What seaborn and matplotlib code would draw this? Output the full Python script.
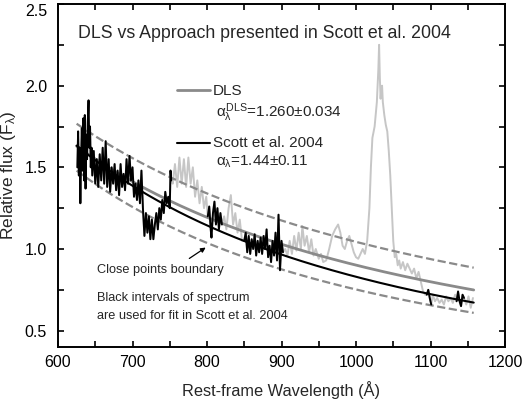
import numpy as np
import pandas as pd
import matplotlib
matplotlib.use("Agg")
import matplotlib.pyplot as plt
import seaborn as sns
from matplotlib.ticker import MultipleLocator

sns.set_style("ticks")
plt.rcParams['font.family'] = ['Liberation Sans', 'DejaVu Sans']
plt.rcParams['mathtext.fontset'] = 'custom'
plt.rcParams['mathtext.rm'] = 'Liberation Sans'
plt.rcParams['mathtext.it'] = 'Liberation Sans'

# ---------------- data ----------------
spec_lam = [626, 627, 628, 629, 630, 631, 632, 633, 634, 635, 636, 637, 638, 639, 640, 641, 642, 643, 644, 645,
            646, 648, 650, 652, 654, 656, 658, 660, 662, 664, 666, 668, 670, 672, 674, 676, 678, 680, 682, 684,
            686, 688, 690, 692, 694, 696, 698, 700, 702, 704, 706, 708, 710, 712, 714, 716, 718, 720, 722, 724,
            726, 728, 730, 732, 734, 736, 738, 740, 742, 744, 746, 748, 750, 751, 752,
            754, 757, 760, 763, 766, 769, 772, 775, 778, 781, 784, 787, 790, 793, 796, 799,
            801, 803, 805, 806, 808, 810, 812, 814, 816, 818, 820,
            823, 826, 829, 832, 835, 838, 841, 844, 847,
            850, 852, 854, 856, 858, 860, 862, 864, 866, 868, 870, 872, 874, 876, 878, 880, 882, 884, 886, 888,
            890, 892, 894, 896, 898, 900, 902,
            905, 908, 911, 914, 917, 920, 923, 926, 928, 931, 934, 937, 940, 943, 946, 950, 953, 956, 960, 964,
            968, 972, 976, 979, 982, 985, 988, 991, 994, 997, 1000, 1003, 1006, 1009, 1012, 1015, 1018, 1020,
            1022, 1025, 1028, 1030, 1031, 1032, 1033, 1034, 1035, 1036, 1038, 1040, 1042, 1044, 1046, 1048,
            1050, 1052, 1054, 1056, 1058, 1060, 1063, 1066, 1069, 1072, 1075, 1078, 1081, 1084, 1087, 1090,
            1093, 1095, 1097, 1099, 1101, 1103, 1106, 1109, 1112, 1115, 1118, 1121, 1124, 1127, 1130, 1133,
            1135, 1137, 1139, 1141, 1143, 1145, 1148, 1151, 1154, 1157]
spec_flux = [1.50, 1.72, 1.45, 1.62, 1.28, 1.55, 1.74, 1.48, 1.80, 1.42, 1.82, 1.37, 1.70, 1.55, 1.78, 1.91, 1.62, 1.75, 1.50, 1.62,
             1.45, 1.60, 1.40, 1.55, 1.38, 1.58, 1.42, 1.62, 1.40, 1.66, 1.38, 1.55, 1.35, 1.50, 1.40, 1.52, 1.36, 1.48, 1.33, 1.52,
             1.38, 1.46, 1.36, 1.55, 1.40, 1.57, 1.42, 1.50, 1.32, 1.40, 1.30, 1.42, 1.28, 1.48, 1.25, 1.08, 1.22, 1.10, 1.20, 1.06,
             1.18, 1.06, 1.15, 1.22, 1.12, 1.25, 1.18, 1.30, 1.22, 1.35, 1.28, 1.32, 1.25, 1.48, 1.42,
             1.40, 1.52, 1.38, 1.56, 1.40, 1.55, 1.38, 1.56, 1.40, 1.50, 1.32, 1.42, 1.28, 1.38, 1.25, 1.32,
             1.20, 1.26, 1.12, 1.07, 1.22, 1.29, 1.15, 1.25, 1.12, 1.22, 1.15,
             1.20, 1.12, 1.25, 1.33, 1.15, 1.22, 1.10, 1.18, 1.05,
             1.05, 1.10, 0.98, 1.08, 0.97, 1.06, 1.00, 1.09, 0.96, 1.05, 0.98, 1.07, 0.97, 1.08, 1.00, 1.12, 0.95, 1.02, 0.92, 1.05,
             0.96, 1.10, 0.93, 1.21, 0.87, 1.05, 0.98,
             1.00, 0.96, 1.05, 0.97, 1.08, 0.99, 1.10, 1.00, 1.14, 1.02, 1.08, 0.98, 1.06, 0.96, 1.00, 0.94, 0.97, 0.92, 0.93, 1.00,
             1.08, 1.12, 1.15, 1.10, 1.02, 1.00, 1.05, 1.08, 1.03, 0.98, 0.95, 0.94, 0.97, 1.00, 0.97, 1.05, 1.25, 1.50,
             1.68, 1.75, 1.90, 2.10, 2.25, 2.05, 1.92, 1.98, 2.00, 1.90, 1.82, 1.76, 1.72, 1.60, 1.45, 1.25,
             1.05, 0.95, 0.97, 0.90, 0.93, 0.88, 0.92, 0.87, 0.91, 0.88, 0.85, 0.88, 0.82, 0.86, 0.80, 0.74,
             0.72, 0.72, 0.75, 0.70, 0.66, 0.72, 0.68, 0.70, 0.67, 0.69, 0.66, 0.71, 0.68, 0.70, 0.67, 0.72,
             0.68, 0.74, 0.68, 0.65, 0.72, 0.70, 0.66, 0.71, 0.64, 0.70]

# wavelength windows used for the fit (black intervals)
fit_lo = [625, 801, 850, 1094, 1134]
fit_hi = [752, 820, 902, 1102, 1146]

# power-law curves: amplitude at reference wavelength and index
curve_names = ["DLS", "Scott", "upper", "lower"]
curve_ref = [1157, 625, 625, 625]
curve_amp = [0.75, 1.633, 1.767, 1.48]
curve_alpha = [1.26, 1.44, 1.12, 1.44]
curve_range = (625, 1158)

y_ticks = [0.5, 1.0, 1.5, 2.0, 2.5]

# ---------------- build tables ----------------
spec = pd.DataFrame({"lam": spec_lam, "flux": spec_flux})
black_parts = []
for i, (lo, hi) in enumerate(zip(fit_lo, fit_hi)):
    part = spec[(spec.lam >= lo) & (spec.lam <= hi)].copy()
    part["seg"] = i
    black_parts.append(part)
black = pd.concat(black_parts)

lam_grid = np.linspace(curve_range[0], curve_range[1], 200)
curves = {}
for n, r, a, al in zip(curve_names, curve_ref, curve_amp, curve_alpha):
    curves[n] = pd.DataFrame({"lam": lam_grid, "flux": a * (lam_grid / r) ** (-al)})

# ---------------- plot ----------------
fig = plt.figure(figsize=(5.24, 3.99), dpi=100)
ax = fig.add_axes([58 / 524, 1 - 347 / 399, (505 - 58) / 524, (347 - 4) / 399])

sns.lineplot(data=spec, x="lam", y="flux", color="#c6c6c6", lw=1.4, sort=False, estimator=None, ax=ax)
for n, st in [("upper", "--"), ("lower", "--")]:
    sns.lineplot(data=curves[n], x="lam", y="flux", color="#8a8a8a", lw=1.6, ls=st, ax=ax)
sns.lineplot(data=curves["DLS"], x="lam", y="flux", color="#8a8a8a", lw=2.0, ax=ax)
sns.lineplot(data=curves["Scott"], x="lam", y="flux", color="black", lw=1.5, ax=ax)
sns.lineplot(data=black, x="lam", y="flux", units="seg", color="black", lw=1.4, sort=False,
             estimator=None, ax=ax)

ax.set_xlim(600, 1200)
ax.set_ylim(0.4, 2.5)
ax.xaxis.set_major_locator(MultipleLocator(100))
ax.xaxis.set_minor_locator(MultipleLocator(50))
ax.yaxis.set_minor_locator(MultipleLocator(0.25))
ax.set_yticks(y_ticks)
ax.set_yticklabels([f"{v:.1f}" for v in y_ticks])
ax.tick_params(which="both", direction="in", top=True, right=True, length=4, width=1.2,
               labelsize=11.5, colors="black")
ax.tick_params(axis="x", pad=6)
ax.tick_params(axis="y", pad=8)
ax.get_yticklabels()[-1].set_va("top")
for s in ax.spines.values():
    s.set_linewidth(1.4)
    s.set_color("black")

ax.set_xlabel("Rest-frame Wavelength (Å)", fontsize=11.8, labelpad=8)
ax.set_ylabel(r"Relative flux (F$_\lambda$)", fontsize=12.5, labelpad=5)

fig.text(78 / 524, 1 - 33 / 399, "DLS vs Approach presented in Scott et al. 2004", fontsize=12.8,
         va="center", ha="left")

# legend-like labels
def px(x, y):
    return (x / 524, 1 - y / 399)

fig.add_artist(plt.Line2D([177 / 524, 210 / 524], [1 - 90 / 399, 1 - 90 / 399], color="#8a8a8a", lw=2.0))
fig.add_artist(plt.Line2D([177 / 524, 210 / 524], [1 - 143 / 399, 1 - 143 / 399], color="black", lw=1.5))
fig.text(*px(213, 91), "DLS", fontsize=11, va="center")
fig.text(*px(216, 113), r"$\alpha_\lambda^{\rm DLS}$=1.260±0.034", fontsize=11, va="center")
fig.text(*px(213, 143), "Scott et al. 2004", fontsize=11, va="center")
fig.text(*px(216, 162), r"$\alpha_\lambda$=1.44±0.11", fontsize=11, va="center")

fig.text(*px(97, 270), "Close points boundary", fontsize=9.2, va="center")
fig.text(*px(97, 298), "Black intervals of spectrum", fontsize=9.2, va="center")
fig.text(*px(97, 316), "are used for fit in Scott et al. 2004", fontsize=9.2, va="center")
ax.annotate("", xy=px(208, 246), xytext=px(187, 260), xycoords="figure fraction",
            textcoords="figure fraction",
            arrowprops=dict(arrowstyle="-|>", color="black", lw=0.9, mutation_scale=7))

fig.savefig("out.png", dpi=100)
